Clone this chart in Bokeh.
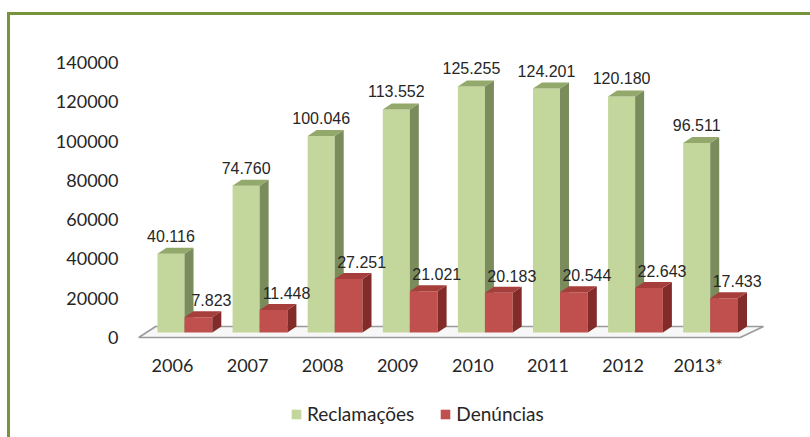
from bokeh.plotting import figure
from bokeh.layouts import column
from bokeh.models import (ColumnDataSource, FixedTicker, Legend, LegendItem,
                          BasicTickFormatter, Range1d)
from bokeh.core.properties import value
from bokeh.embed import file_html
from bokeh.resources import INLINE

# ---------------- data ----------------
years = ["2006", "2007", "2008", "2009", "2010", "2011", "2012", "2013*"]
reclamacoes = [40116, 74760, 100046, 113552, 125255, 124201, 120180, 96511]
denuncias = [7823, 11448, 27251, 21021, 20183, 20544, 22643, 17433]
y_ticks = [0, 20000, 40000, 60000, 80000, 100000, 120000, 140000]
series_names = ["Reclamações", "Denúncias"]

# ---------------- style / geometry ----------------
W, H = 810, 437
H_MAIN = 390
H_LEG = H - H_MAIN
F_LEFT, F_RIGHT, F_TOP, F_BOTTOM = 125, 795, 30, 352
PX_CAT = 75.1          # pixels per category
CAT0_PX = 172          # pixel x of first category label
Y0_PX, YTOP_PX = 337, 62
UPP = y_ticks[-1] / (Y0_PX - YTOP_PX)   # value units per pixel
XPP = 1.0 / PX_CAT                      # category units per pixel

x_start = -(CAT0_PX - F_LEFT) * XPP
x_end = (F_RIGHT - CAT0_PX) * XPP
y_start = -(F_BOTTOM - Y0_PX) * UPP
y_end = y_ticks[-1] + (YTOP_PX - F_TOP) * UPP

BASE = 5 * UPP
DX = 9 * XPP
DY = 6 * UPP
G_OFF = (-0.2, 0.16)
R_OFF = (0.16, 0.53)

G_FRONT, G_SIDE, G_TOP = "#C3D69B", "#7A8B5C", "#93A86B"
R_FRONT, R_SIDE, R_TOP = "#C0504D", "#822B29", "#A63E3B"
TXT = "#262626"
FRAME_GREEN = "#77933C"
GRAD = f"linear-gradient({FRAME_GREEN},{FRAME_GREEN})"

p = figure(width=W, height=H_MAIN, x_range=Range1d(x_start, x_end),
           y_range=Range1d(y_start, y_end),
           min_border_left=F_LEFT, min_border_right=W - F_RIGHT,
           min_border_top=F_TOP, min_border_bottom=H_MAIN - F_BOTTOM,
           output_backend="svg", toolbar_location=None)
p.grid.visible = False
p.outline_line_color = None
p.background_fill_color = "white"
p.border_fill_color = None
p.styles = {
    "background-color": "white",
    "background-image": f"{GRAD}, {GRAD}",
    "background-position": "7px 12px, 7px 12px",
    "background-size": "810px 3px, 3px 500px",
    "background-repeat": "no-repeat",
}

# floor
n = len(years)
floor_xs = [-0.45, n - 1 + 0.56, n - 1 + 0.56 + 0.31, -0.45 + 0.226]
floor_ys = [0, 0, 11 * UPP, 11 * UPP]
p.patch(floor_xs, floor_ys, fill_color="#F7F7F7", line_color="#9A9A9A", line_width=1.5)


def bars(vals, off, front, side, top):
    x0 = [i + off[0] for i in range(n)]
    x1 = [i + off[1] for i in range(n)]
    tops = [BASE + v for v in vals]
    src = ColumnDataSource(dict(left=x0, right=x1, bottom=[BASE] * n, top=tops))
    side_xs = [[b, b + DX, b + DX, b] for b in x1]
    side_ys = [[BASE, BASE + DY, t + DY, t] for t in tops]
    top_xs = [[a, a + DX, b + DX, b] for a, b in zip(x0, x1)]
    top_ys = [[t, t + DY, t + DY, t] for t in tops]
    p.quad(left="left", right="right", bottom="bottom", top="top", source=src,
           fill_color=front, line_color=None)
    p.patches(side_xs, side_ys, fill_color=side, line_color=None)
    p.patches(top_xs, top_ys, fill_color=top, line_color=None)
    return x0, x1, tops


def fmt(v):
    return f"{v:,}".replace(",", ".")


gx0, gx1, gt = bars(reclamacoes, G_OFF, G_FRONT, G_SIDE, G_TOP)
rx0, rx1, rt = bars(denuncias, R_OFF, R_FRONT, R_SIDE, R_TOP)

lab_g = ColumnDataSource(dict(x=[(a + b) / 2 for a, b in zip(gx0, gx1)],
                              y=[t + 18 * UPP for t in gt],
                              t=[fmt(v) for v in reclamacoes]))
lab_r = ColumnDataSource(dict(x=[(a + b) / 2 + 13 * XPP for a, b in zip(rx0, rx1)],
                              y=[t + 17 * UPP for t in rt],
                              t=[fmt(v) for v in denuncias]))
for s in (lab_g, lab_r):
    p.text(x="x", y="y", text="t", source=s, text_align="center",
           text_baseline="middle", text_font=value("Liberation Sans"),
           text_font_size="16px", text_color=TXT)

# axes
p.yaxis.ticker = FixedTicker(ticks=y_ticks)
p.yaxis.formatter = BasicTickFormatter(use_scientific=False)
p.xaxis.ticker = FixedTicker(ticks=list(range(n)))
p.xaxis.major_label_overrides = {i: y for i, y in enumerate(years)}
for ax in (p.xaxis[0], p.yaxis[0]):
    ax.axis_line_color = None
    ax.major_tick_line_color = None
    ax.minor_tick_line_color = None
    ax.major_tick_out = 0
    ax.major_tick_in = 0
    ax.major_label_text_font = "Lato"
    ax.major_label_text_font_size = "18px"
    ax.major_label_text_color = TXT
p.yaxis.major_label_standoff = 7
p.xaxis.major_label_standoff = 1

# ---------------- legend strip ----------------
q = figure(width=W, height=H_LEG, x_range=Range1d(0, 1), y_range=Range1d(0, 1),
           min_border=0, output_backend="svg", toolbar_location=None)
q.axis.visible = False
q.grid.visible = False
q.outline_line_color = None
q.background_fill_color = None
q.border_fill_color = None
q.styles = {
    "background-color": "white",
    "background-image": GRAD,
    "background-position": "7px 0px",
    "background-size": "3px 100px",
    "background-repeat": "no-repeat",
}
# legend swatches only (kept outside the visible range)
lg = q.quad(left=[-3], right=[-2], bottom=[-3], top=[-2], fill_color=G_FRONT, line_color=None)
lr = q.quad(left=[-3], right=[-2], bottom=[-3], top=[-2], fill_color=R_FRONT, line_color=None)
legend = Legend(items=[LegendItem(label=series_names[0], renderers=[lg]),
                       LegendItem(label=series_names[1], renderers=[lr])],
                orientation="horizontal", location=(290 - F_LEFT, 12),
                glyph_width=12, glyph_height=12, label_standoff=5, spacing=25,
                padding=0, margin=0, border_line_color=None,
                background_fill_alpha=0, label_text_font="Lato",
                label_text_font_size="19px", label_text_color=TXT)
q.add_layout(legend)

layout = column(p, q, spacing=0)
open("out.html", "w").write(file_html(layout, INLINE))
